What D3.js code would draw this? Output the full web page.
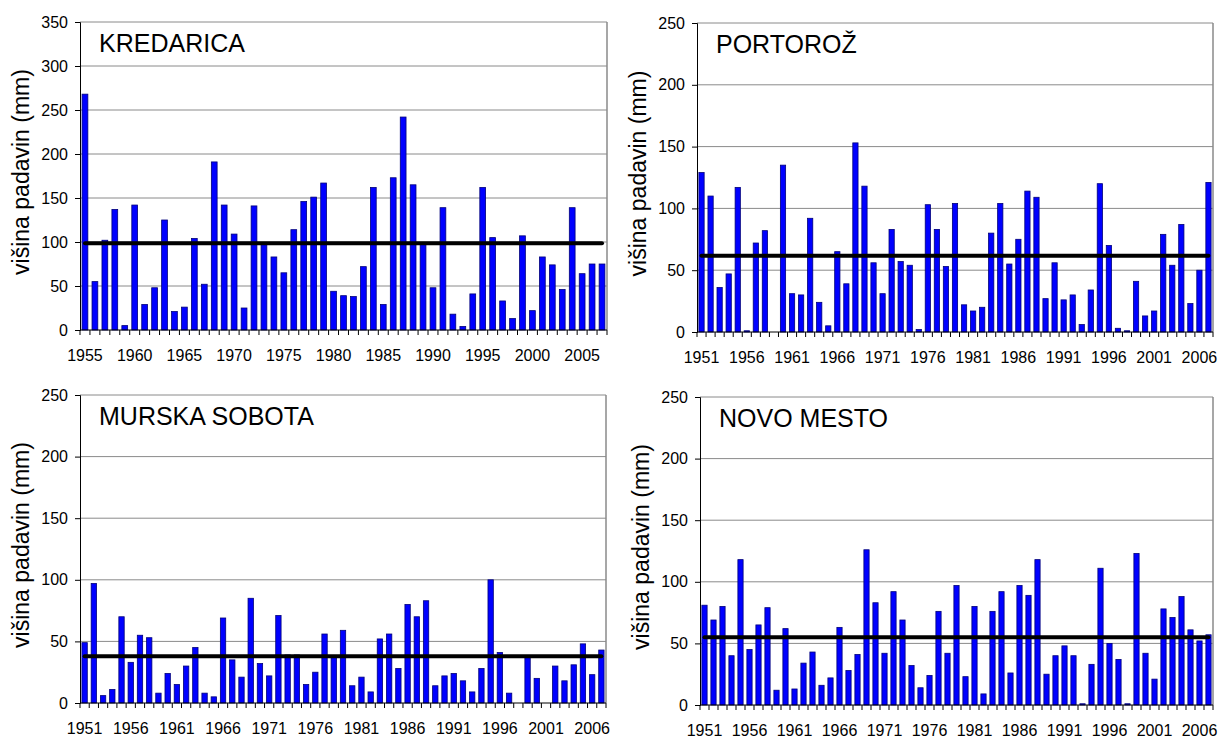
<!DOCTYPE html>
<html>
<head>
<meta charset="utf-8">
<script src="https://cdn.jsdelivr.net/npm/d3@7"></script>
<style>
  body { margin: 0; background: #fff; }
  svg text { font-family: "Liberation Sans", Arial, sans-serif; fill: #000; }
</style>
</head>
<body>
<div id="chart"></div>
<script>
// precipitation per year (mm)
const kredaricaYears = d3.range(1955, 2008);
const kredarica = [268, 55, 102, 137, 5, 142, 29, 48, 125, 21,
                   26, 104, 52, 191, 142, 109, 25, 141, 97, 83,
                   65, 114, 146, 151, 167, 44, 39, 38, 72, 162,
                   29, 173, 242, 165, 98, 48, 139, 18, 4, 41,
                   162, 105, 33, 13, 107, 22, 83, 74, 46, 139,
                   64, 75, 75];

const years = d3.range(1951, 2008);
const portoroz = [129, 110, 36, 47, 117, 1, 72, 82, 0, 135,
                  31, 30, 92, 24, 5, 65, 39, 153, 118, 56,
                  31, 83, 57, 54, 2, 103, 83, 53, 104, 22,
                  17, 20, 80, 104, 55, 75, 114, 109, 27, 56,
                  26, 30, 6, 34, 120, 70, 3, 1, 41, 13,
                  17, 79, 54, 87, 23, 50, 121];
const murskaSobota = [49, 97, 6, 11, 70, 33, 55, 53, 8, 24,
                      15, 30, 45, 8, 5, 69, 35, 21, 85, 32,
                      22, 71, 39, 39, 15, 25, 56, 38, 59, 14,
                      21, 9, 52, 56, 28, 80, 70, 83, 14, 22,
                      24, 18, 9, 28, 100, 41, 8, 0, 38, 20,
                      0, 30, 18, 31, 48, 23, 43];
const novoMesto = [81, 69, 80, 40, 118, 45, 65, 79, 12, 62,
                   13, 34, 43, 16, 22, 63, 28, 41, 126, 83,
                   42, 92, 69, 32, 14, 24, 76, 42, 97, 23,
                   80, 9, 76, 92, 26, 97, 89, 118, 25, 40,
                   48, 40, 1, 33, 111, 50, 37, 1, 123, 42,
                   21, 78, 71, 88, 61, 52, 57];

// long-term averages (black line)
const averages = [98.5, 61.6, 38, 55];
const stations = ['KREDARICA', 'PORTOROŽ', 'MURSKA SOBOTA', 'NOVO MESTO'];
const yMax = [350, 250, 250, 250];
const yLabel = 'višina padavin (mm)';

class BarPanel {
  constructor(svg, box, name, cats, values, avg, max) {
    this.svg = svg;
    this.box = box;
    this.name = name;
    this.cats = cats;
    this.values = values;
    this.avg = avg;
    this.max = max;
    this.xScale = d3.scaleBand()
                    .domain(cats)
                    .range([box.left, box.right])
                    .paddingInner(0.42)
                    .paddingOuter(0.21);
    this.yScale = d3.scaleLinear()
                    .domain([0, max])
                    .range([box.bottom, box.top]);
    this.g = this.svg.append('g').attr('class', 'panel');
    this.draw();
  }

  draw() {
    let b = this.box;
    let ticks = d3.range(0, this.max + 1, 50);
    let step = this.xScale.step();

    //gridlines
    this.g.append('g')
          .selectAll('line')
          .data(ticks.filter(t => t > 0))
          .join('line')
          .attr('x1', b.left)
          .attr('x2', b.right)
          .attr('y1', d => this.yScale(d))
          .attr('y2', d => this.yScale(d))
          .attr('stroke', '#8a8a8a')
          .attr('stroke-width', 1);
    //right border
    this.g.append('line')
          .attr('x1', b.right).attr('x2', b.right)
          .attr('y1', b.top).attr('y2', b.bottom)
          .attr('stroke', '#8a8a8a')
          .attr('stroke-width', 1.5);

    //y axis
    let yAxis = d3.axisLeft(this.yScale)
                  .tickValues(ticks)
                  .tickSize(5)
                  .tickPadding(7)
                  .tickFormat(d3.format('d'));
    let ya = this.g.append('g')
                   .attr('transform', `translate(${b.left},0)`)
                   .call(yAxis);
    ya.select('.domain').attr('stroke', '#000');
    ya.selectAll('text').attr('font-size', 16);

    //bars
    this.g.append('g')
          .selectAll('rect')
          .data(this.values)
          .join('rect')
          .attr('x', (d, i) => this.xScale(this.cats[i]))
          .attr('y', d => this.yScale(d))
          .attr('width', this.xScale.bandwidth())
          .attr('height', d => this.yScale(0) - this.yScale(d))
          .attr('fill', '#0000ff')
          .attr('stroke', '#00007a')
          .attr('stroke-width', d => d > 0 ? 0.8 : 0);

    //x axis with tick at every band boundary
    let bounds = d3.range(this.cats.length + 1).map(i => b.left + i * step);
    this.g.append('line')
          .attr('x1', b.left).attr('x2', b.right)
          .attr('y1', b.bottom).attr('y2', b.bottom)
          .attr('stroke', '#000');
    this.g.append('g')
          .selectAll('line')
          .data(bounds)
          .join('line')
          .attr('x1', d => d).attr('x2', d => d)
          .attr('y1', b.bottom).attr('y2', b.bottom + 5)
          .attr('stroke', '#000');
    this.g.append('g')
          .selectAll('text')
          .data(this.cats.filter((c, i) => i % 5 === 0))
          .join('text')
          .attr('x', d => this.xScale(d) + this.xScale.bandwidth() / 2)
          .attr('y', b.bottom + 31)
          .attr('text-anchor', 'middle')
          .attr('font-size', 16)
          .text(d => d);

    //average line
    let first = this.cats[0], last = this.cats[this.cats.length - 1];
    let half = this.xScale.bandwidth() / 2;
    this.g.append('line')
          .attr('x1', this.xScale(first) + half)
          .attr('x2', this.xScale(last) + half)
          .attr('y1', this.yScale(this.avg))
          .attr('y2', this.yScale(this.avg))
          .attr('stroke', '#000')
          .attr('stroke-width', 4)
          .attr('stroke-linecap', 'round');

    //station name
    this.g.append('text')
          .attr('x', b.left + 19)
          .attr('y', b.top + 30)
          .attr('font-size', 25)
          .text(this.name);

    //y label
    let cy = (b.top + b.bottom) / 2 - 4;
    this.g.append('text')
          .attr('transform', `translate(${b.left - 51},${cy}) rotate(-90)`)
          .attr('text-anchor', 'middle')
          .attr('font-size', 23)
          .text(yLabel);
  }
}

let svg = d3.select('#chart')
            .append('svg')
            .attr('width', 1219)
            .attr('height', 740);

const boxes = [
  {left: 80, right: 607, top: 22, bottom: 330},
  {left: 697, right: 1213, top: 23, bottom: 332},
  {left: 80, right: 606, top: 395, bottom: 703},
  {left: 700, right: 1213, top: 397, bottom: 705}
];
const series = [kredarica, portoroz, murskaSobota, novoMesto];
const cats = [kredaricaYears, years, years, years];

series.forEach((s, k) => {
  new BarPanel(svg, boxes[k], stations[k], cats[k], s, averages[k], yMax[k]);
});
</script>
</body>
</html>
